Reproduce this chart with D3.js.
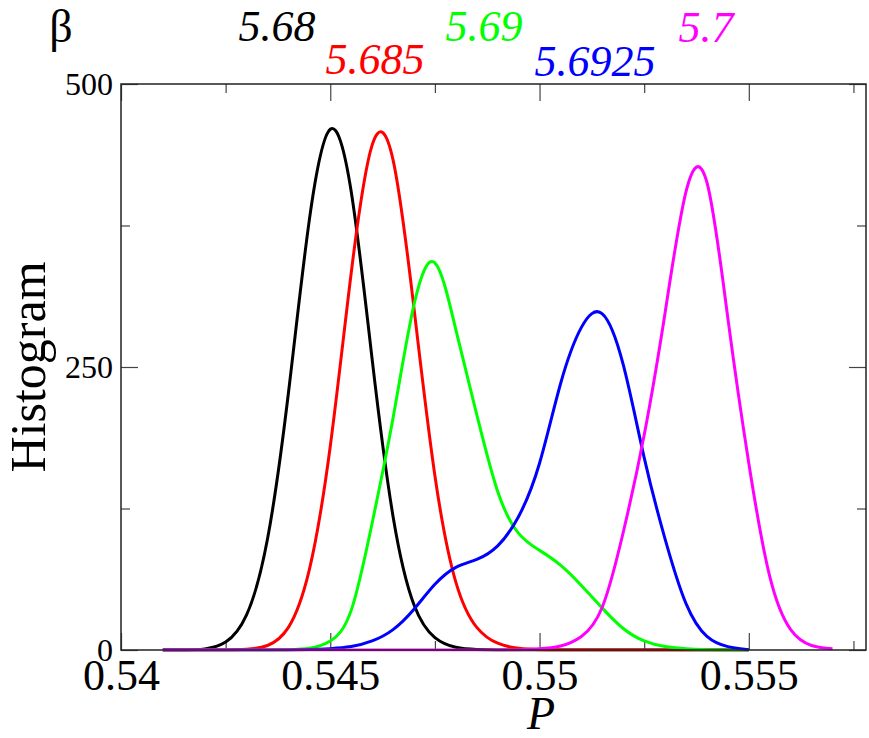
<!DOCTYPE html>
<html>
<head>
<meta charset="utf-8">
<script src="https://cdn.jsdelivr.net/npm/d3@7"></script>
<style>
  body { margin: 0; background: #fff; }
  svg { display: block; }
  text { font-family: "Liberation Serif", "DejaVu Serif", serif; }
</style>
</head>
<body>
<script>
// plaquette values P (shared grid)
const pGrid = [0.541, 0.5415, 0.542, 0.5425, 0.543, 0.5435, 0.544, 0.5445, 0.545, 0.5455,
               0.546, 0.5465, 0.547, 0.5475, 0.548, 0.5485, 0.549, 0.5495, 0.55, 0.5505,
               0.551, 0.5515, 0.552, 0.5525, 0.553, 0.5535, 0.554, 0.5545, 0.555, 0.5555,
               0.556, 0.5565, 0.557];

// histogram heights for each beta
const h568 = [0, 0, 1, 7, 31, 98, 227, 380, 460, 405, 257, 118, 40, 11, 2.5, 0.5, 0, 0, 0, 0,
              0, 0, 0, 0, 0, 0, 0, 0, 0];
const h5685 = [0, 0, 0, 0, 0.6, 4, 20, 71, 180, 333, 446, 433, 302, 154, 60, 20, 6, 1.5, 0.3, 0,
               0, 0, 0, 0, 0, 0, 0, 0, 0];
const h569 = [0, 0, 0, 0, 0, 0, 0.3, 1.5, 8, 35, 112, 205, 305, 342, 283, 208, 140, 103, 88, 75,
              57, 37, 19, 8, 3, 1, 0.3, 0, 0];
const h56925 = [0, 0, 0, 0, 0, 0, 0.1, 0.4, 1.2, 3, 8, 18, 36, 58, 73, 80, 92, 118, 165, 235,
                285, 297, 252, 170, 98, 41, 12, 3, 0.3];
const h57 = [0, 0, 0, 0, 0, 0, 0, 0, 0, 0, 0, 0, 0, 0, 0, 0, 0, 0.3, 1, 3.5,
             12, 38, 104, 190, 298, 405, 413, 293, 165, 65, 18, 4, 1];

const betaLabels = ["5.68", "5.685", "5.69", "5.6925", "5.7"];
const seriesList = [h568, h5685, h569, h56925, h57];
const colors = ["#000000", "#ff0000", "#00ff00", "#0000ff", "#ff00ff"];

const xMajor = [0.54, 0.545, 0.55, 0.555];
const xMinor = [0.5425, 0.5475, 0.5525, 0.5575];
const yMajor = [0, 250, 500];
const yMinor = [125, 375];

const W = 869, H = 738;
const m = { left: 121, right: 866, top: 84, bottom: 650 };
const font = '"Liberation Serif", "DejaVu Serif", serif';

const svg = d3.select("body").append("svg")
  .attr("width", W).attr("height", H)
  .style("background", "#fff");

const x = d3.scaleLinear().domain([0.54, 0.5578]).range([m.left, m.right]);
const y = d3.scaleLinear().domain([0, 500]).range([m.bottom, m.top]);

// axes: ticks point inward
function styleAxis(g) {
  g.attr("font-family", null);
  g.select(".domain").remove();
  g.selectAll(".tick line").attr("stroke", "#444").attr("stroke-width", 1.2);
  g.selectAll("text").style("font-family", font).attr("fill", "#000");
}

svg.append("g")
  .attr("transform", `translate(0,${m.bottom})`)
  .call(d3.axisBottom(x).tickValues(xMajor).tickSizeInner(-17).tickSizeOuter(0)
    .tickPadding(9).tickFormat(d => String(+d.toFixed(3))))
  .call(styleAxis)
  .selectAll("text").attr("font-size", 44);

svg.append("g")
  .attr("transform", `translate(0,${m.bottom})`)
  .call(d3.axisBottom(x).tickValues(xMinor).tickSizeInner(-9).tickSizeOuter(0).tickFormat(""))
  .call(styleAxis);

svg.append("g")
  .attr("transform", `translate(0,${m.top})`)
  .call(d3.axisTop(x).tickValues(xMajor).tickSizeInner(-17).tickSizeOuter(0).tickFormat(""))
  .call(styleAxis);

svg.append("g")
  .attr("transform", `translate(0,${m.top})`)
  .call(d3.axisTop(x).tickValues(xMinor).tickSizeInner(-9).tickSizeOuter(0).tickFormat(""))
  .call(styleAxis);

svg.append("g")
  .attr("transform", `translate(${m.left},0)`)
  .call(d3.axisLeft(y).tickValues(yMajor).tickSizeInner(-17).tickSizeOuter(0).tickPadding(8))
  .call(styleAxis)
  .selectAll("text").attr("font-size", 32);

svg.append("g")
  .attr("transform", `translate(${m.left},0)`)
  .call(d3.axisLeft(y).tickValues(yMinor).tickSizeInner(-9).tickSizeOuter(0).tickFormat(""))
  .call(styleAxis);

svg.append("g")
  .attr("transform", `translate(${m.right},0)`)
  .call(d3.axisRight(y).tickValues(yMajor).tickSizeInner(-17).tickSizeOuter(0).tickFormat(""))
  .call(styleAxis);

svg.append("g")
  .attr("transform", `translate(${m.right},0)`)
  .call(d3.axisRight(y).tickValues(yMinor).tickSizeInner(-9).tickSizeOuter(0).tickFormat(""))
  .call(styleAxis);

// curves, clipped to the plot frame
svg.append("clipPath").attr("id", "plot-clip")
  .append("rect")
  .attr("x", m.left).attr("y", m.top - 5)
  .attr("width", m.right - m.left).attr("height", m.bottom - m.top + 6.5);

const line = d3.line()
  .x(d => x(d[0]))
  .y(d => y(d[1]))
  .curve(d3.curveNatural);

seriesList.forEach((vals, i) => {
  const pts = vals.map((v, j) => [pGrid[j], v]);
  svg.append("path")
    .datum(pts)
    .attr("clip-path", "url(#plot-clip)")
    .attr("fill", "none")
    .attr("stroke", colors[i])
    .attr("stroke-width", 3)
    .attr("stroke-linejoin", "round")
    .attr("d", line);
});

// frame
svg.append("rect")
  .attr("x", m.left).attr("y", m.top)
  .attr("width", m.right - m.left).attr("height", m.bottom - m.top)
  .attr("fill", "none").attr("stroke", "#222").attr("stroke-width", 1.5);

// beta labels on top
const labelPos = [[277, 41], [375, 74], [484, 41], [595, 76], [706, 42]];
svg.selectAll(".beta")
  .data(betaLabels)
  .enter().append("text")
  .attr("class", "beta")
  .attr("x", (d, i) => labelPos[i][0])
  .attr("y", (d, i) => labelPos[i][1])
  .attr("text-anchor", "middle")
  .style("font-family", font)
  .attr("font-style", "italic")
  .attr("font-size", 44)
  .attr("fill", (d, i) => colors[i])
  .text(d => d);

svg.append("text")
  .attr("x", 61).attr("y", 42)
  .attr("text-anchor", "middle")
  .style("font-family", font)
  .attr("font-size", 46)
  .text("β");

// axis titles
svg.append("text")
  .attr("transform", `translate(45,367) rotate(-90)`)
  .attr("text-anchor", "middle")
  .style("font-family", font)
  .attr("font-size", 50)
  .text("Histogram");

svg.append("text")
  .attr("x", 541).attr("y", 729)
  .attr("text-anchor", "middle")
  .style("font-family", font)
  .attr("font-style", "italic")
  .attr("font-size", 46)
  .text("P");
</script>
</body>
</html>
